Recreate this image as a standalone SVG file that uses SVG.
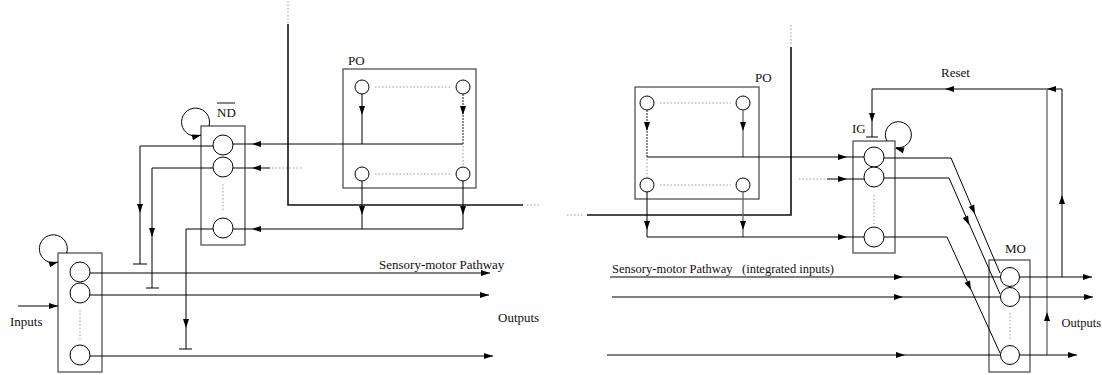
<svg xmlns="http://www.w3.org/2000/svg" xmlns:xlink="http://www.w3.org/1999/xlink" width="1102" height="375" viewBox="0 0 1102 375">
<style>
.bg{fill:#fff}
.box{fill:none;stroke:#444;stroke-width:1.2}
.unit{fill:#fff;stroke:#000;stroke-width:1}
.ln{fill:none;stroke:#000;stroke-width:1}
.thick{fill:none;stroke:#111;stroke-width:1.6}
.gray{fill:none;stroke:#666;stroke-width:1.3}
.dot{fill:none;stroke:#999;stroke-width:1;stroke-dasharray:1.5,2}
.ddot{fill:none;stroke:#222;stroke-width:1;stroke-dasharray:2,1}
.lbl{font-family:"Liberation Serif","Times New Roman",serif;font-size:13px;fill:#111}
</style>
<defs>
<path id="ah" d="M0,0 L-9,-3 L-9,3 Z" fill="#000"/>
</defs>
<rect class="bg" width="1102" height="375"/>

<g id="input-layer">
<rect class="box" x="58" y="253" width="44" height="119"/>
<circle class="unit" cx="80" cy="272" r="10"/>
<circle class="unit" cx="80" cy="293" r="10"/>
<circle class="unit" cx="80" cy="355" r="10"/>
<line class="dot" x1="80" y1="310" x2="80" y2="341"/>
<text class="lbl" x="10" y="326">Inputs</text>
</g>

<g id="nd-layer">
<rect class="box" x="201" y="126" width="44" height="119"/>
<circle class="unit" cx="223" cy="145" r="10"/>
<circle class="unit" cx="223" cy="167" r="10"/>
<circle class="unit" cx="223" cy="228" r="10"/>
<line class="dot" x1="223" y1="184" x2="223" y2="212"/>
<text class="lbl" x="217" y="117">ND</text>
<line x1="217" y1="103" x2="235" y2="103" stroke="#111" stroke-width="1"/>
</g>

<g id="po-left">
<rect class="box" x="343" y="69" width="133" height="119"/>
<circle class="unit" cx="362" cy="87" r="7"/>
<circle class="unit" cx="463" cy="87" r="7"/>
<circle class="unit" cx="362" cy="174" r="7"/>
<circle class="unit" cx="463" cy="174" r="7"/>
<line class="dot" x1="375" y1="87" x2="451" y2="87"/>
<line class="dot" x1="375" y1="174" x2="451" y2="174"/>
<text class="lbl" x="348" y="65">PO</text>
</g>

<g id="po-right">
<rect class="box" x="635" y="87" width="124" height="112"/>
<circle class="unit" cx="647" cy="103" r="7"/>
<circle class="unit" cx="743" cy="103" r="7"/>
<circle class="unit" cx="647" cy="185" r="7"/>
<circle class="unit" cx="743" cy="185" r="7"/>
<line class="dot" x1="660" y1="103" x2="731" y2="103"/>
<line class="dot" x1="660" y1="185" x2="731" y2="185"/>
<text class="lbl" x="755" y="82">PO</text>
</g>

<g id="ig-layer">
<rect class="box" x="853" y="141" width="42" height="112"/>
<circle class="unit" cx="874" cy="157" r="10"/>
<circle class="unit" cx="874" cy="177" r="10"/>
<circle class="unit" cx="874" cy="237" r="10"/>
<line class="dot" x1="874" y1="195" x2="874" y2="224"/>
<text class="lbl" x="852" y="133">IG</text>
</g>

<g id="mo-layer">
<rect class="box" x="989" y="260" width="41" height="112"/>
<circle class="unit" cx="1010" cy="277" r="9.5"/>
<circle class="unit" cx="1010" cy="297" r="9.5"/>
<circle class="unit" cx="1010" cy="355" r="9.5"/>
<line class="dot" x1="1010" y1="313" x2="1010" y2="340"/>
<text class="lbl" x="1005" y="253">MO</text>
</g>

<g id="connectors">
<!-- self loops -->
<path class="ln" d="M66.7,253 A14,14 0 1 0 58,262"/>
<use xlink:href="#ah" transform="translate(58,262) rotate(-15)"/>
<path class="ln" d="M209,126 A14,14 0 1 0 201,135"/>
<use xlink:href="#ah" transform="translate(201,135) rotate(-15)"/>
<!-- inputs -->
<line class="ln" x1="18" y1="306" x2="58" y2="306"/>
<use xlink:href="#ah" transform="translate(58,306)"/>
<!-- left sensory-motor outputs -->
<line class="ln" x1="90" y1="273" x2="490" y2="273"/>
<use xlink:href="#ah" transform="translate(490,273)"/>
<line class="ln" x1="90" y1="295" x2="489" y2="295"/>
<use xlink:href="#ah" transform="translate(489,295)"/>
<line class="ln" x1="90" y1="356" x2="493" y2="356"/>
<use xlink:href="#ah" transform="translate(493,356)"/>
<text class="lbl" x="379" y="269">Sensory-motor Pathway</text>
<text class="lbl" x="498" y="322">Outputs</text>
<!-- ND inhibitory -->
<path class="ln" d="M213,146 H140 V264"/>
<line class="ln" x1="133" y1="264" x2="147" y2="264"/>
<use xlink:href="#ah" transform="translate(140,213) rotate(90)"/>
<path class="ln" d="M213,168 H152 V288"/>
<line class="ln" x1="146" y1="288" x2="159" y2="288"/>
<use xlink:href="#ah" transform="translate(152,237) rotate(90)"/>
<path class="ln" d="M213,229 H186 V349"/>
<line class="ln" x1="179" y1="349" x2="192" y2="349"/>
<use xlink:href="#ah" transform="translate(186,328) rotate(90)"/>
<!-- PO left to ND -->
<line class="ln" x1="233" y1="144" x2="463" y2="144"/>
<use xlink:href="#ah" transform="translate(252,144) rotate(180)"/>
<line class="ln" x1="233" y1="168" x2="270" y2="168"/>
<line class="dot" x1="272" y1="168" x2="303" y2="168"/>
<use xlink:href="#ah" transform="translate(252,168) rotate(180)"/>
<line class="ln" x1="233" y1="229" x2="463" y2="229"/>
<use xlink:href="#ah" transform="translate(252,229) rotate(180)"/>
<line class="ln" x1="362" y1="94" x2="362" y2="144"/>
<use xlink:href="#ah" transform="translate(362,115) rotate(90)"/>
<line class="ddot" x1="463" y1="94" x2="463" y2="144"/>
<use xlink:href="#ah" transform="translate(463,115) rotate(90)"/>
<line class="dot" x1="463" y1="146" x2="463" y2="167"/>
<line class="ln" x1="362" y1="181" x2="362" y2="229"/>
<use xlink:href="#ah" transform="translate(362,215) rotate(90)"/>
<line class="ln" x1="463" y1="181" x2="463" y2="229"/>
<use xlink:href="#ah" transform="translate(463,215) rotate(90)"/>
<!-- big left line -->
<line class="dot" x1="288" y1="1" x2="288" y2="23"/>
<path class="thick" d="M288,24 V205 H523"/>
<line class="dot" x1="527" y1="205" x2="541" y2="205"/>
<!-- big right line -->
<line class="dot" x1="791" y1="25" x2="791" y2="45"/>
<path class="thick" d="M791,47 V215 H587"/>
<line class="dot" x1="567" y1="215" x2="584" y2="215"/>
<!-- PO right to IG -->
<line class="ddot" x1="647" y1="110" x2="647" y2="157"/>
<use xlink:href="#ah" transform="translate(647,131) rotate(90)"/>
<line class="gray" x1="743" y1="110" x2="743" y2="157"/>
<use xlink:href="#ah" transform="translate(743,131) rotate(90)"/>
<line class="dot" x1="647" y1="159" x2="647" y2="178"/>
<line class="ln" x1="647" y1="157" x2="864" y2="157"/>
<use xlink:href="#ah" transform="translate(847,157)"/>
<line class="ln" x1="647" y1="192" x2="647" y2="237"/>
<use xlink:href="#ah" transform="translate(647,230) rotate(90)"/>
<line class="gray" x1="743" y1="192" x2="743" y2="237"/>
<use xlink:href="#ah" transform="translate(743,230) rotate(90)"/>
<line class="ln" x1="647" y1="237" x2="864" y2="237"/>
<use xlink:href="#ah" transform="translate(847,237)"/>
<line class="dot" x1="799" y1="179" x2="827" y2="179"/>
<line class="ln" x1="827" y1="179" x2="864" y2="179"/>
<use xlink:href="#ah" transform="translate(847,179)"/>
<!-- IG self loop -->
<path class="ln" d="M887,141 A13,13 0 1 1 896,147.5"/>
<use xlink:href="#ah" transform="translate(895,148) rotate(195)"/>
<!-- Reset -->
<path class="ln" d="M1062,277 V89 H872 V137"/>
<line class="ln" x1="866" y1="137" x2="878" y2="137"/>
<use xlink:href="#ah" transform="translate(1062,195) rotate(-90)"/>
<use xlink:href="#ah" transform="translate(1047,89) rotate(180)"/>
<use xlink:href="#ah" transform="translate(945,89) rotate(180)"/>
<use xlink:href="#ah" transform="translate(872,122) rotate(90)"/>
<text class="lbl" x="941" y="77">Reset</text>
<line class="gray" x1="1047" y1="355" x2="1047" y2="89"/>
<use xlink:href="#ah" transform="translate(1047,312) rotate(-90)"/>
<!-- IG to MO -->
<path class="ln" d="M884,158 H951 L1000,273"/>
<use xlink:href="#ah" transform="translate(975,214) rotate(66.9)"/>
<path class="ln" d="M884,178 H949 L1000,294"/>
<use xlink:href="#ah" transform="translate(969,225) rotate(66.3)"/>
<path class="ln" d="M884,237 H947 L1000,353"/>
<use xlink:href="#ah" transform="translate(971,290) rotate(65.4)"/>
<!-- right sensory-motor -->
<line class="ln" x1="610" y1="277" x2="1000" y2="277"/>
<use xlink:href="#ah" transform="translate(903,277)"/>
<line class="ln" x1="612" y1="297" x2="1000" y2="297"/>
<use xlink:href="#ah" transform="translate(903,297)"/>
<line class="ln" x1="607" y1="355" x2="1000" y2="355"/>
<use xlink:href="#ah" transform="translate(905,355)"/>
<text class="lbl" x="612" y="273" style="font-size:12.5px">Sensory-motor Pathway<tspan x="742">(integrated inputs)</tspan></text>
<!-- MO outputs -->
<line class="ln" x1="1019" y1="277" x2="1092" y2="277"/>
<use xlink:href="#ah" transform="translate(1092,277)"/>
<line class="ln" x1="1019" y1="297" x2="1093" y2="297"/>
<use xlink:href="#ah" transform="translate(1093,297)"/>
<line class="ln" x1="1019" y1="355" x2="1077" y2="355"/>
<use xlink:href="#ah" transform="translate(1077,355)"/>
<text class="lbl" x="1101" y="327" text-anchor="end" style="font-size:12.5px">Outputs</text>
</g>
</svg>
